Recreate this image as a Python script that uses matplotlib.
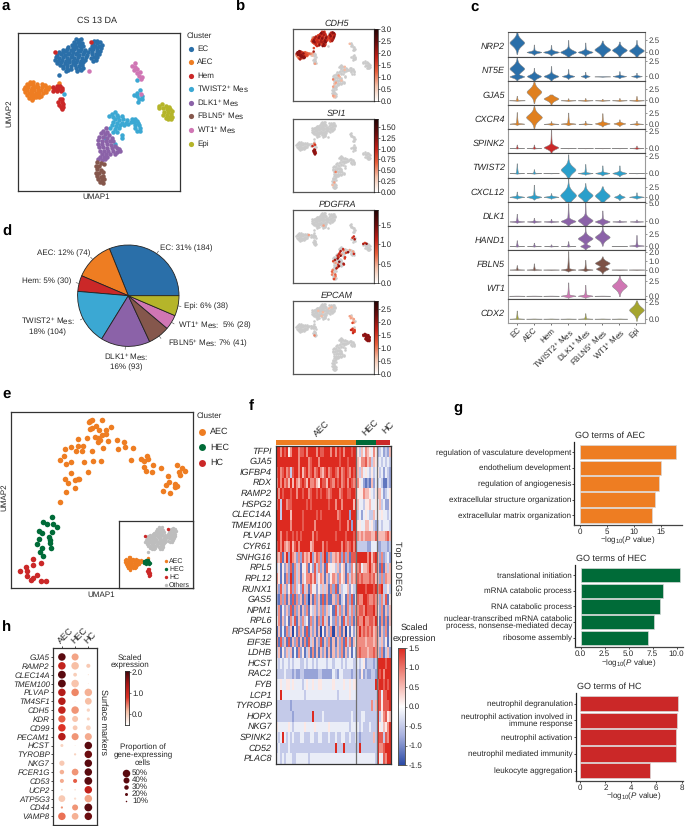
import numpy as np
import matplotlib
matplotlib.use("Agg")
import matplotlib.pyplot as plt
from matplotlib.colors import LinearSegmentedColormap

plt.rcParams['font.family'] = ['Liberation Sans', 'DejaVu Sans']
plt.rcParams['mathtext.fontset'] = 'custom'
plt.rcParams['mathtext.rm'] = 'Liberation Sans'
plt.rcParams['mathtext.it'] = 'Liberation Sans:italic'
plt.rcParams['mathtext.bf'] = 'Liberation Sans:bold'
plt.rcParams['mathtext.default'] = 'regular'
plt.rcParams['text.hinting'] = 'no_hinting'
plt.rcParams['text.hinting_factor'] = 1

W, H = 685, 826
TXT = '#262626'
FS = 6.0

# ---------------- palette / clusters ----------------
CLUSTERS = ['EC', 'AEC', 'Hem', 'TWIST2$^{+}$ Mes', 'DLK1$^{+}$ Mes', 'FBLN5$^{+}$ Mes', 'WT1$^{+}$ Mes', 'Epi']
COL = {'EC': '#2a6fa9', 'AEC': '#ee7d22', 'Hem': '#cb2828', 'TW': '#3ba8d3', 'DL': '#8b62a8',
       'FB': '#85574c', 'WT': '#d076b4', 'Epi': '#b5b52a'}
COL_LIST = [COL[k] for k in ['EC', 'AEC', 'Hem', 'TW', 'DL', 'FB', 'WT', 'Epi']]
GREEN = '#006b38'

# ---------------- panel a UMAP embedding ----------------
EC = [(228,118),(237,120),(243,117),(222,127),(233,125),(241,128),(283,124),(292,122),(215,134),(226,132),(236,134),(246,130),(280,130),(291,130),(300,127),(205,141),(218,140),(229,142),(239,139),(250,138),(275,137),(285,139),(297,137),(305,135),(190,150),(200,146),(212,149),(222,148),(233,150),(243,146),(255,149),(270,146),(280,147),(292,145),(303,145),(178,155),(188,157),(198,154),(208,158),(220,155),(230,158),(240,154),(252,157),(265,155),(277,156),(290,153),(300,154),(172,164),(183,162),(195,165),(205,162),(215,166),(228,163),(238,166),(250,162),(262,165),(275,162),(287,161),(297,163),(168,172),(178,174),(190,171),(200,174),(212,171),(222,175),(233,171),(245,174),(258,172),(272,175),(283,170),(292,172),(165,180),(175,182),(187,179),(197,183),(208,180),(220,183),(232,180),(243,182),(255,179),(278,182),(288,179),(172,189),(183,187),(195,190),(207,187),(218,190),(228,187),(240,190),(250,187),(180,196),(190,198),(200,195),(212,198),(225,196),(237,199),(247,195),(190,205),(200,203),(212,206),(228,204),(240,206),(248,203),(197,212),(205,210),(232,212),(243,211),(178,225)]
AEC = [(90,245),(98,247),(80,252),(90,253),(100,255),(110,252),(125,252),(135,256),(75,260),(85,262),(95,263),(105,261),(115,260),(125,262),(138,261),(148,260),(158,263),(72,268),(82,270),(92,271),(103,270),(113,269),(123,271),(135,270),(145,268),(76,277),(86,279),(97,278),(107,278),(118,278),(128,279),(138,277),(82,285),(92,287),(103,286),(113,285),(123,287),(88,293),(98,295),(108,292),(118,291),(95,299),(177,248)]
HEM_UP = [(160,262),(170,259),(180,258),(165,268),(175,267),(185,265),(160,272),(170,274),(182,274),(187,270)]
HEM_LOW = [(180,296),(185,298),(175,305),(185,307),(178,314),(188,313),(182,322),(190,320),(185,328)]
HEM_STRAY = [(272,125),(165,155)]
TWIST = [(345,337),(335,342),(350,345),(328,349),(340,351),(355,352),(365,348),(345,358),(358,360),(370,358),(380,360),(395,358),(405,358),(412,362),(340,365),(352,368),(365,368),(378,368),(392,367),(403,367),(415,368),(335,375),(348,378),(360,376),(373,376),(385,372),(405,376),(418,375),(330,385),(345,388),(358,385),(405,385),(420,383),(340,395),(352,396),(410,393),(420,392),(367,405),(365,413),(316,415),(344,431),(192,283),(420,270),(412,278),(403,286),(412,288),(425,288),(418,296),(425,298),(415,306),(412,240)]
DLK = [(318,385),(310,392),(322,395),(302,400),(315,403),(328,405),(296,410),(308,412),(322,413),(335,414),(295,420),(306,422),(318,423),(330,424),(340,422),(295,431),(307,432),(320,433),(332,434),(345,438),(298,441),(310,442),(322,443),(335,444),(350,443),(358,447),(300,452),(312,452),(325,453),(338,454),(350,455),(360,452),(305,461),(318,462),(330,463),(345,462),(300,470),(312,471),(322,470),(295,478),(305,480),(315,477)]
FBLN = [(292,487),(302,488),(312,492),(288,498),(298,498),(292,508),(302,510),(288,518),(298,520),(308,517),(292,528),(302,530),(310,528),(295,538),(305,540),(312,537),(300,547),(309,548)]
WT = [(405,190),(395,197),(405,200),(410,208),(402,210),(412,218),(420,216),(418,228),(427,230),(422,238),(424,281),(266,212)]
EPI = [(477,318),(487,312),(497,317),(508,320),(478,325),(488,324),(500,326),(510,328),(516,333),(493,335),(503,336),(514,342),(490,345),(500,345),(510,350),(516,352),(497,353),(505,358),(514,358)]
A_GROUPS = [EC, AEC, HEM_UP, HEM_LOW, HEM_STRAY, TWIST, DLK, FBLN, WT, EPI]
A_COLORS = [COL['EC'], COL['AEC'], COL['Hem'], COL['Hem'], COL['Hem'], COL['TW'], COL['DL'], COL['FB'], COL['WT'], COL['Epi']]

# ---------------- panel b expression levels, one digit per point ----------------
B_GENES = ['CDH5', 'SPI1', 'PDGFRA', 'EPCAM']
B_VMAX = [3.03, 1.68, 1.89, 2.8]
B_TICKS = [[0,.5,1,1.5,2,2.5,3], [0,.25,.5,.75,1,1.25,1.5], [0,.5,1,1.5], [0,.5,1,1.5,2,2.5]]
B_FMT = ['%.1f', '%.2f', '%.1f', '%.1f']
CDH5_EXPR = {0: '6849757968475896748596478596738596847596849576948576948576859674859647859674869758695748695748596749586749857698745',
             1: '9899754498869544339996554339985433999544988645438',
             2: '1200000100', 3: '000000002', 5: '00000010000000001000000000000000000000000000000000',
             6: '000002000100000300010000000200001000000200010', 7: '000000000000021010010', 8: '010000000000'}
SPI1_EXPR = {2: '0030060700', 3: '799998989', 6: '000000000000000000000300', 7: '0000002000100'}
PDGFRA_EXPR = {0: '00000000000000000000000000000000000000000000000000000000000000000000000000000000000000000000000200000000000',
               1: '00000000000000020000000000000000000',
               5: '000007003002008000002600590073007900065000760080000000000000',
               6: '0070060090080005009002000800600700900050080000600090700800500090070040008060',
               7: '300402030400302050302040300', 9: '8590000000000000000'}
EPCAM_EXPR = {0: '00000000000000000000010000000001000000000000000000100000000000000100000000000000000000000000001',
              3: '000000300', 5: '00000000000000000000000000000000000000000006756657565',
              8: '0211202102100', 9: '9999899999899998999'}
B_EXPR = [CDH5_EXPR, SPI1_EXPR, PDGFRA_EXPR, EPCAM_EXPR]

# ---------------- panel c stacked violins ----------------
C_GENES = ['NRP2','NT5E','GJA5','CXCR4','SPINK2','TWIST2','CXCL12','DLK1','HAND1','FBLN5','WT1','CDX2']
C_YLIM = [(-.81,4.05),(-.71,3.26),(-1.03,4.34),(-1.18,4.19),(-.77,2.69),(-.66,2.83),(-1.25,4.75),(-1.27,5.36),(-.9,4.17),(-.57,2.19),(-.5,3.5),(-.64,2.94)]
C_TICKS = [[0,2.5],[0,2.5],[0,2.5],[0,2.5],[0,2.5],[0,2.5],[0,2.5],[0,5],[0,2.5],[0,1,2],[0,2.5],[0,2.5]]
C_COLORS = ['#2a6fa9','#2a6fa9','#e0801f','#e0801f','#cb2828','#2a9fcb','#2a9fcb','#8b62a8','#8b62a8','#7d5246','#d076b4','#a5a52e']
V_TOP = [[4.05,1.6,1.5,2.5,2.0,2.4,2.2,2.5],[3.26,1.4,1.7,1.2,.75,.05,.85,.6],[1.0,4.1,1.3,.45,.5,.35,.5,.95],
         [2.6,4.0,.6,2.5,.7,2.35,1.0,.7],[.5,.5,2.6,.03,.03,.03,.03,.35],[1.4,.55,.03,2.7,1.3,1.1,1.1,.03],
         [1.3,3,.9,4.5,3.4,2.6,.8,1.1],[2.1,1,.7,5,5.2,3,.45,.55],[1.2,.7,.35,1,4.1,4.1,.03,2.3],
         [.5,.7,.02,2.1,1.1,1.5,.02,.02],[.03,.03,.03,2.2,1.8,.03,3.3,0],[1.2,.03,.03,.03,.8,.03,.03,2.7]]
V_MODE = [[2.0,.1,.1,.1,.1,.6,.5,.4],[1.3,.05,.05,.05,.05,0,.05,.05],[0,1.9,.4,0,0,0,0,0],
          [.05,1.5,0,.05,0,.1,.1,0],[0,0,.1,0,0,0,0,0],[0,0,0,.5,0,0,0,0],
          [0,0,0,.4,.4,.3,0,0],[0,0,0,.1,.3,0,0,0],[0,0,0,0,1.6,1.9,0,.1],
          [0,0,0,0,0,.75,0,0],[0,0,0,0,0,0,1.65,0],[0,0,0,0,0,0,0,1.3]]
V_SPREAD = [[1.0,.25,.3,.55,.35,.8,.7,.7],[.75,.4,.35,.2,.15,.03,.15,.12],[.05,1.1,.6,.07,.07,.06,.07,.08],
            [.12,1.1,.1,.15,.08,.3,.25,.1],[.03,.04,.35,.02,.02,.02,.02,.05],[.04,.04,.02,.7,.1,.15,.2,.02],
            [.2,.3,.2,1.4,1.1,1.1,.35,.2],[.15,.15,.12,.6,1,.5,.1,.1],[.05,.05,.05,.05,.7,.8,.02,.12],
            [.03,.04,.02,.1,.08,.33,.02,.02],[.02,.02,.02,.15,.15,.02,.75,.01],[.04,.02,.02,.02,.04,.02,.02,.7]]
V_WIDTH = [[.42,.42,.45,.45,.42,.45,.42,.42],[.42,.4,.42,.35,.25,.45,.38,.3],[.45,.42,.42,.42,.42,.42,.42,.42],
           [.42,.45,.42,.42,.38,.42,.33,.38],[.42,.42,.42,.45,.45,.45,.45,.4],[.42,.42,.45,.42,.42,.4,.4,.45],
           [.42,.42,.42,.45,.42,.42,.3,.42],[.42,.4,.42,.42,.42,.42,.4,.38],[.42,.4,.4,.42,.42,.42,.45,.42],
           [.42,.42,.45,.42,.42,.42,.45,.45],[.45,.45,.45,.42,.42,.45,.42,0],[.42,.45,.45,.45,.42,.45,.45,.42]]
V_LOBES = {(1,0): (0,.3,.42), (8,4): (0,.35,.28), (9,5): (.1,.25,.36)}

# ---------------- panel d ----------------
PIE_COUNTS = [184, 74, 30, 104, 93, 41, 28, 38]

# ---------------- panel e ----------------
E_AEC = [(270,108),(275,105),(305,105),(267,112),(288,122),(275,130),(270,132),(297,135),(333,126),(319,135),(318,148),(305,150),(286,156),(260,158),(234,161),(293,160),(300,166),(293,170),(352,166),(373,170),(324,168),(233,182),(248,182),(214,187),(195,191),(229,199),(247,199),(277,198),(309,188),(374,185),(354,193),(400,188),(192,214),(180,225),(214,232),(198,238),(252,231),(280,228),(302,228),(394,225),(423,222),(441,212),(444,222),(433,227),(458,239),(432,246),(438,258),(457,262),(482,249),(532,240),(546,248),(555,258),(536,262),(540,270),(505,274),(213,264),(263,261),(234,281),(194,282),(226,286),(238,283),(203,295),(226,310),(198,322),(508,290),(497,299),(524,296),(532,303),(524,305),(490,318),(511,324),(179,350)]
E_HEC = [(157,395),(128,412),(140,416),(160,418),(172,426),(157,440),(118,437),(125,443),(147,455),(117,462),(150,465),(112,476),(150,475),(153,490),(126,488),(120,500),(130,512)]
E_HC = [(100,523),(124,535),(77,545),(99,540),(82,558),(59,558),(82,572),(110,570),(100,578),(92,585),(122,587),(137,587)]

# ---------------- panel f heatmap: digit 0..9 = -1.5..1.5 ----------------
F_GENES = ['TFPI','GJA5','IGFBP4','RDX','RAMP2','HSPG2','CLEC14A','TMEM100','PLVAP','CYR61','SNHG16','RPL5','RPL12','RUNX1','GAS5','NPM1','RPL6','RPSAP58','EIF3E','LDHB','HCST','RAC2','FYB','LCP1','TYROBP','HOPX','NKG7','SPINK2','CD52','PLAC8']
F_ROWS = [
 '9979895799978897999979889997979897999899'+'5364765475'+'2342326',
 '9999999999979999789997999999999899989999'+'6577867365'+'3434343',
 '8978978389979689789789768978987978987989'+'6364543534'+'5342432',
 '7979786969768986977865988698798978979878'+'7542121624'+'3431132',
 '9798999899799899789989899878999789988998'+'5557665435'+'6642345',
 '8939978899999998989999999989979979999969'+'6443556445'+'4634225',
 '9939999699999899999989899999997899992999'+'3424543364'+'5454434',
 '9999999799999899999799999999999899979299'+'5544664532'+'3434443',
 '9979989989898999997989999999989999899989'+'7676777668'+'6666786',
 '8979767968979999967999979899999979878979'+'3333322444'+'2233323',
 '7681692976272867692687279172676828271888'+'9999979689'+'6272342',
 '3515262817361547152837261854536256132747'+'7846679768'+'6181636',
 '7515172917361647786835761625762756173767'+'8787778786'+'6272766',
 '6283625827352836174525363617281634462533'+'9999899989'+'7893353',
 '2172716181726172061726181711627135172815'+'8779987787'+'6273815',
 '3715262817261627153626272635183726173727'+'7887988897'+'5271626',
 '4716251738162735172617283615272618372716'+'8779778879'+'5171716',
 '1614172605172618162616051627062716051525'+'7978787867'+'6162715',
 '7182618162716171836162816271616271837164'+'7777677767'+'6362514',
 '3615263614172513617161626161626271625142'+'7877767787'+'6271362',
 '4343443434443343443434444344344434344433'+'4345233323'+'9999899',
 '3333433323223322222223322222432443333233'+'3252322332'+'9897999',
 '4454455454444345445445544444544445445455'+'3333333339'+'8998989',
 '4494444444444434444444444444443444445444'+'3333333333'+'9848899',
 '3333333233333333333333333333333333333333'+'3333333736'+'9858889',
 '3333333323333333339333343333333333333433'+'3344333333'+'9357856',
 '5444445434444454444544444454444444443444'+'4343334333'+'9546579',
 '4349434343334433344334433343343344334334'+'3233333363'+'9883879',
 '3433334333333333333333333333393339333333'+'3933333333'+'9778999',
 '4434344433444444344444444444444444444444'+'4444444443'+'9548799',
]
F_NCOL = [40, 10, 7]

# ---------------- panel g ----------------
G_TITLES = ['GO terms of AEC', 'GO terms of HEC', 'GO terms of HC']
G_TERMS = [['regulation of vasculature development','endothelium development','regulation of angiogenesis','extracellular structure organization','extracellular matrix organization'],
           ['translational initiation','mRNA catabolic process','RNA catabolic process','nuclear-transcribed mRNA catabolic\nprocess, nonsense-mediated decay','ribosome assembly'],
           ['neutrophil degranulation','neutrophil activation involved in\nimmune response','neutrophil activation','neutrophil mediated immunity','leukocyte aggregation']]
G_VALUES = [[17.8,15.0,14.6,13.9,13.3],[10.4,8.56,8.28,7.68,6.98],[7.68,7.65,7.55,7.55,5.5]]
G_XTICKS = [[0,5,10,15],[0,2.5,5,7.5,10],[0,2,4,6,8]]
G_XTL = [['0','5','10','15'],['0.0','2.5','5.0','7.5','10.0'],['0','2','4','6','8']]
G_XLIM = [(-.98,18.8),(-.56,10.7),(-.34,8.1)]
G_COLORS = [COL['AEC'], GREEN, COL['Hem']]

# ---------------- panel h ----------------
H_GENES = ['GJA5','RAMP2','CLEC14A','TMEM100','PLVAP','TM4SF1','CDH5','KDR','CD99','PECAM1','HCST','TYROBP','NKG7','FCER1G','CD53','UCP2','ATP5G3','CD44','VAMP8']
H_COLS = ['AEC', 'HEC', 'HC']
H_PROP = [[50,47,0],[50,50,27],[52,25,7],[52,50,5],[50,50,50],[50,5,45],[50,50,22],[48,40,20],[50,32,32],[50,47,47],
          [20,5,50],[0,15,50],[35,0,50],[30,45,50],[27,27,52],[12,10,50],[45,15,50],[15,40,52],[50,45,50]]
H_EXPR = [[2.0,.6,0],[1.4,.4,.3],[2.0,.25,.1],[2.0,.35,.05],[1.5,.8,.5],[1.5,.05,.4],[1.4,.7,.2],[1.0,.35,.2],[1.2,.3,.2],[1.5,.7,.55],
          [.2,.05,2.0],[0,.2,1.9],[.3,0,2.0],[.5,.7,2.0],[.55,1.0,2.0],[.2,.1,1.4],[.3,.1,.6],[.7,.7,2.0],[.9,.5,1.9]]
H_LEGEND = [50, 40, 30, 20, 10]

# ---------------- helpers ----------------
fig = plt.figure(figsize=(W/100, H/100), dpi=100)

def ax_px(l, t, r, b, **kw):
    return fig.add_axes([l/W, 1-b/H, (r-l)/W, (b-t)/H], **kw)

ov = fig.add_axes([0, 0, 1, 1], zorder=50)
ov.set_xlim(0, W); ov.set_ylim(H, 0); ov.axis('off'); ov.patch.set_alpha(0)

def T(x, y, s, size=FS, ha='left', va='center', **kw):
    kw.setdefault('color', TXT)
    ov.text(x, y, s, fontsize=size, ha=ha, va=va, **kw)

def box(ax, col='#333333', lw=0.9):
    for sp in ax.spines.values():
        sp.set_color(col); sp.set_linewidth(lw)

for x, y, s in [(2,6,'a'),(235,7,'b'),(470,7,'c'),(2,232,'d'),(2,394,'e'),(249,406,'f'),(453,408,'g'),(2,627,'h')]:
    T(x, y, s, size=11, fontweight='bold', color='black')

# ---------------- a ----------------
ax = ax_px(17.5, 32.7, 180, 190.7)
for g, c in zip(A_GROUPS, A_COLORS):
    p = np.array(g)
    ax.scatter(p[:, 0], p[:, 1], s=10.5, c=c, linewidths=0)
ax.set_xlim(52, 540); ax.set_ylim(572, 98); ax.set_xticks([]); ax.set_yticks([]); box(ax)
T(97, 21, 'CS 13 DA', size=6.8, ha='center')
T(96, 197, 'UMAP1', ha='center')
T(9, 113, 'UMAP2', ha='center', rotation=90)
T(187, 36, 'Cluster')
for i, (lab, c, y) in enumerate(zip(CLUSTERS, COL_LIST, [49, 62, 76, 89, 103, 116, 130, 144])):
    ov.scatter([191], [y], s=14, c=c, linewidths=0)
    T(197, y, lab, size=FS+.1)

# ---------------- b ----------------
ALL_GROUPS = A_GROUPS
B_BOX = [(28.7, 101), (119, 192), (210, 283), (301, 374)]
cm_pts = LinearSegmentedColormap.from_list('pts', ['#f8d4c2', '#f29a7c', '#e4502f', '#cf2a1c', '#8c1212'])
cm_bar = LinearSegmentedColormap.from_list('bar', ['#ffffff', '#f6c4ac', '#e8603c', '#c02018', '#6a0c0c', '#200404'])
for gene, vmax, ticks, fmt, expr, (t, b) in zip(B_GENES, B_VMAX, B_TICKS, B_FMT, B_EXPR, B_BOX):
    ax = ax_px(293, t, 373.7, b)
    xs, ys, ds = [], [], []
    for gi, g in enumerate(ALL_GROUPS):
        digs = expr.get(gi, '').ljust(len(g), '0')[:len(g)]
        for (x, y), d in zip(g, digs):
            xs.append(x); ys.append(y); ds.append(int(d))
    xs, ys, ds = np.array(xs), np.array(ys), np.array(ds)
    m = ds == 0
    ax.scatter(xs[m], ys[m], s=3.4, c='#cbcbcb', linewidths=0)
    o = np.argsort(ds[~m])
    ax.scatter(xs[~m][o], ys[~m][o], s=3.4, c=ds[~m][o]/9, cmap=cm_pts, vmin=0, vmax=1, linewidths=0)
    ax.set_xlim(52, 540); ax.set_ylim(572, 98); ax.set_xticks([]); ax.set_yticks([]); box(ax, '#555555', .9)
    T(337, t-5, gene, size=6.2, ha='center', style='italic')
    cax = ax_px(374, t, 377.7, b)
    cax.imshow(np.linspace(1, 0, 256)[:, None], aspect='auto', cmap=cm_bar, extent=(0, 1, 0, vmax))
    cax.set_xticks([]); cax.yaxis.tick_right(); cax.set_yticks(ticks); cax.set_yticklabels([fmt % v for v in ticks])
    cax.tick_params(axis='y', length=1.2, width=.4, labelsize=FS-.1, pad=1, labelcolor=TXT)
    box(cax, '#222222', .5)

# ---------------- c ----------------
rt, rh = 32.3, (323-32.3)/12
for r, gene in enumerate(C_GENES):
    ax = ax_px(508.3, rt+r*rh, 645, rt+(r+1)*rh)
    ax.set_xlim(-.5, 7.5); ax.set_ylim(*C_YLIM[r])
    for c in range(8):
        if V_WIDTH[r][c] == 0:
            continue
        mode, s, hw, top = V_MODE[r][c], V_SPREAD[r][c], V_WIDTH[r][c], V_TOP[r][c]
        low = mode-2.3*s
        lobe = V_LOBES.get((r, c))
        if lobe:
            low = min(low, lobe[0]-2.3*lobe[1])
        yy = np.linspace(low, top, 240)
        w = hw*np.exp(-(np.abs(yy-mode)/s)**1.6)
        tail = np.where(yy > mode, .16*hw*np.exp(-(yy-mode)/(.35*(top-mode)+1e-6)), 0)
        w = np.maximum(w, tail)
        if lobe:
            w = np.maximum(w, lobe[2]*np.exp(-(np.abs(yy-lobe[0])/lobe[1])**1.6))
        w = w+.012
        ax.fill_betweenx(yy, c-w, c+w, facecolor=C_COLORS[r], edgecolor='#858585', linewidth=.35)
    ax.yaxis.tick_right(); ax.set_yticks(C_TICKS[r])
    ax.set_yticklabels(['%.1f' % v for v in C_TICKS[r]])
    ax.tick_params(axis='y', length=1.5, width=.4, labelsize=FS-.1, pad=1, labelcolor='#444444', color='#444444')
    for k, sp in ax.spines.items():
        sp.set_linewidth(.8)
        sp.set_color('#9a9a9a' if k in ('left', 'right') else '#4a4a4a')
    if r == 11:
        ax.spines['bottom'].set_color('#9a9a9a')
        ax.set_xticks(range(8)); ax.set_xticklabels(CLUSTERS, rotation=45, ha='right', rotation_mode='anchor')
        ax.tick_params(axis='x', length=1.5, width=.4, labelsize=FS+.1, pad=1, labelcolor=TXT)
    else:
        ax.set_xticks([])
    T(505, rt+(r+.6)*rh, gene, size=6.2, ha='right', style='italic')

# ---------------- d ----------------
R = 50.7
ax = ax_px(128.3-R, 295.7-R, 128.3+R, 295.7+R)
ax.pie(PIE_COUNTS, colors=COL_LIST, startangle=0, counterclock=True, radius=1,
       wedgeprops=dict(edgecolor='#222222', linewidth=.6))
ax.set_xlim(-1, 1); ax.set_ylim(-1, 1)
mids = (np.cumsum(PIE_COUNTS)-np.array(PIE_COUNTS)/2)/np.sum(PIE_COUNTS)*2*np.pi
for a in mids:
    ax.plot([np.cos(a), 1.06*np.cos(a)], [np.sin(a), 1.06*np.sin(a)], color='#444444', lw=.4, clip_on=False)
T(160, 248.7, 'EC: 31% (184)')
T(90, 253.7, 'AEC: 12% (74)', ha='right')
T(71, 281.3, 'Hem: 5% (30)', ha='right')
T(47.7, 321, 'TWIST2$^{+}$ Mes:', ha='center'); T(47.7, 332, '18% (104)', ha='center')
T(126, 356.7, 'DLK1$^{+}$ Mes:', ha='center'); T(126, 367.7, '16% (93)', ha='center')
T(167.7, 343.7, 'FBLN5$^{+}$ Mes: 7% (41)')
T(177.7, 325.7, 'WT1$^{+}$ Mes:  5% (28)')
T(183.7, 306, 'Epi: 6% (38)')

# ---------------- e ----------------
ax = ax_px(11, 411.7, 192.7, 588.3)
for g, c in [(E_AEC, COL['AEC']), (E_HEC, GREEN), (E_HC, COL['Hem'])]:
    p = np.array(g)
    ax.scatter(p[:, 0], p[:, 1], s=16, c=c, linewidths=0)
ax.set_xlim(33, 578); ax.set_ylim(610, 80); ax.set_xticks([]); ax.set_yticks([]); box(ax)
T(101, 595, 'UMAP1', ha='center')
T(4, 497, 'UMAP2', ha='center', rotation=90)
T(197, 416.3, 'Cluster')
for y, lab, c in [(432, 'AEC', COL['AEC']), (447.3, 'HEC', GREEN), (462.7, 'HC', COL['Hem'])]:
    ov.scatter([202], [y], s=25, c=c, linewidths=0)
    T(210, y, lab, size=FS+.3)
ins = ax_px(119, 521, 192.7, 588.3, zorder=5)
for g, c in [(EC, '#bdbdbd'), (AEC, COL['AEC']), (HEM_UP, GREEN), (HEM_LOW, COL['Hem']), (HEM_STRAY, COL['Hem'])]:
    p = np.array(g)
    ins.scatter(p[:, 0], p[:, 1], s=6, c=c, linewidths=0)
ins.set_xlim(46, 383); ins.set_ylim(379, 91); ins.set_xticks([]); ins.set_yticks([]); box(ins)
for y, lab, c in [(561, 'AEC', COL['AEC']), (569, 'HEC', GREEN), (577, 'HC', COL['Hem']), (585, 'Others', '#bdbdbd')]:
    ov.scatter([165.7], [y], s=6, c=c, linewidths=0)
    T(169, y, lab, size=5.2)

# ---------------- f ----------------
cm_f = LinearSegmentedColormap.from_list('bwr2', ['#2a4aa5', '#a7b0de', '#ffffff', '#f29a90', '#dd2a20'])
n = sum(F_NCOL)
Z = np.array([[(int(ch)-4.5)/4.5*1.5 for ch in row.ljust(n, row[-1])[:n]] for row in F_ROWS])
ax = ax_px(276, 446, 390.7, 764)
ax.imshow(Z, aspect='auto', cmap=cm_f, vmin=-1.5, vmax=1.5, interpolation='nearest')
ax.set_xticks([]); ax.set_yticks([]); box(ax, '#333333', .9)
for v in np.cumsum(F_NCOL)[:2]:
    ax.axvline(v-.5, color='#707070', lw=.9)
for i, g in enumerate(F_GENES):
    T(272, 446+(i+.5)*10.6, g, size=6.2, ha='right', style='italic')
bar = ax_px(276, 440, 389.5, 445)
bar.barh([0], F_NCOL, left=[0, F_NCOL[0], F_NCOL[0]+F_NCOL[1]], height=1, color=[COL['AEC'], GREEN, COL['Hem']])
bar.set_xlim(0, n); bar.set_ylim(-.5, .5); bar.axis('off')
T(322, 429, 'AEC', size=6.6, ha='center', rotation=45)
T(370, 428, 'HEC', size=6.6, ha='center', rotation=45)
T(388, 428, 'HC', size=6.6, ha='center', rotation=45)
T(397, 568, 'Top 10 DEGs', size=6.2, ha='center', rotation=-90)
T(414.7, 628, 'Scaled', size=6.2, ha='center'); T(414.7, 639, 'expression', size=6.2, ha='center')
cax = ax_px(398, 648, 405, 765)
cax.imshow(np.linspace(1.5, -1.5, 256)[:, None], aspect='auto', cmap=cm_f, vmin=-1.5, vmax=1.5, extent=(0, 1, -1.5, 1.5))
cax.set_xticks([]); cax.yaxis.tick_right(); cax.set_yticks(np.arange(-1.5, 1.6, .5))
cax.set_yticklabels(['-1.5', '-1.0', '-0.5', '0.0', '0.5', '1.0', '1.5'])
cax.tick_params(axis='y', length=1.5, width=.4, labelsize=FS-.1, pad=1, labelcolor=TXT)
box(cax, '#555555', .7)

# ---------------- g ----------------
G_BOX = [(574.3, 441.7, 681.7, 525), (575.3, 565, 683.3, 646.7), (575.7, 693, 683, 781)]
G_YLIM = [(4.61, -.65), (4.57, -.64), (4.62, -.64)]
G_TITLE_Y = [435.7, 558.7, 687]
G_XL = [(628, 540.5), (628.7, 663.5), (633.3, 796)]
XLABEL = r'$-$log$_{10}$($\mathit{P}$ value)'
for i in range(3):
    l, t, r, b = G_BOX[i]
    ax = ax_px(l, t, r, b)
    ax.barh(range(5), G_VALUES[i], height=.92, color=G_COLORS[i], edgecolor='#d8d8d8', linewidth=.5)
    ax.set_xlim(*G_XLIM[i]); ax.set_ylim(*G_YLIM[i])
    ax.set_yticks(range(5)); ax.set_yticklabels(G_TERMS[i], linespacing=.95)
    ax.set_xticks(G_XTICKS[i]); ax.set_xticklabels(G_XTL[i])
    ax.tick_params(axis='both', length=1.5, width=.5, labelsize=FS-.1, pad=.8, labelcolor=TXT)
    ax.spines['top'].set_visible(False); ax.spines['right'].set_visible(False)
    ax.spines['left'].set_linewidth(.9); ax.spines['bottom'].set_linewidth(.9)
    ax.spines['left'].set_color('#222222'); ax.spines['bottom'].set_color('#444444')
    T(l+1, G_TITLE_Y[i], G_TITLES[i], size=6.2)
    T(G_XL[i][0], G_XL[i][1], XLABEL, size=FS-.3, ha='center')

# ---------------- h ----------------
cm_h = LinearSegmentedColormap.from_list('h', ['#fbe6da', '#f7bfa5', '#ee8766', '#dd3226', '#a81515', '#5a0a0f'])
ax = ax_px(53.3, 648.3, 97.3, 825)
Ph = np.array(H_PROP, dtype=float); Eh = np.array(H_EXPR)
yy, xx = np.meshgrid(range(len(H_GENES)), range(3), indexing='ij')
ax.scatter(xx.ravel(), yy.ravel(), s=(Ph.ravel()*.108)**2, c=Eh.ravel(), cmap=cm_h, vmin=0, vmax=2, linewidths=0)
ax.set_xlim(-.65, 2.68); ax.set_ylim(18.98, -.98)
ax.set_yticks(range(len(H_GENES))); ax.set_yticklabels(H_GENES, style='italic')
ax.set_xticks(range(3)); ax.set_xticklabels(H_COLS, rotation=45, ha='left', rotation_mode='anchor', fontsize=6.4)
ax.xaxis.tick_top()
ax.tick_params(axis='y', length=1.5, width=.5, labelsize=5.7, pad=1, labelcolor=TXT)
ax.tick_params(axis='x', length=1.5, width=.5, pad=1, labelcolor=TXT)
box(ax, '#333333', .9)
T(103, 722, 'Surface markers', size=6.2, ha='center', rotation=-90)
T(130, 657.5, 'Scaled', size=5.6, ha='center'); T(130, 665, 'expression', size=5.6, ha='center')
cax = ax_px(125, 671, 129.3, 725)
cax.imshow(np.linspace(2.06, -.54, 256)[:, None], aspect='auto', cmap=LinearSegmentedColormap.from_list('hb', ['#ffffff', '#f7bfa5', '#dd3226', '#a81515', '#3a060a']), extent=(0, 1, -.54, 2.06))
cax.set_xticks([]); cax.yaxis.tick_right(); cax.set_yticks([0, 1, 2]); cax.set_yticklabels(['0.0', '1.0', '2.0'])
cax.tick_params(axis='y', length=1.2, width=.4, labelsize=FS-.1, pad=.8, labelcolor=TXT)
box(cax, '#333333', .6)
T(143, 747.5, 'Proportion of', size=5.6, ha='center')
T(143, 755, 'gene-expressing', size=5.6, ha='center')
T(143, 762.5, 'cells', size=5.6, ha='center')
for p, y in zip(H_LEGEND, [773.3, 780, 787, 794, 800.7]):
    ov.scatter([126], [y], s=(p*.108)**2, c='#5a0a0f', linewidths=0)
    T(132, y, '%d%%' % p, size=5.6)

fig.savefig('out.png', dpi=100)
